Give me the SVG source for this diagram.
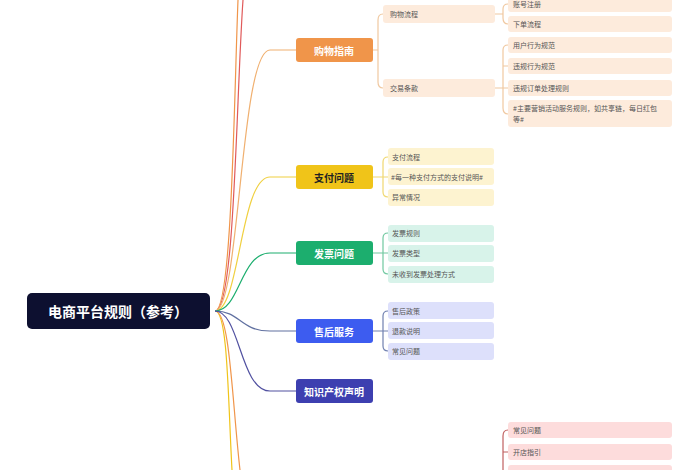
<svg xmlns="http://www.w3.org/2000/svg" width="700" height="470" viewBox="0 0 700 470">
<style>
text{font-family:"Noto Sans CJK SC","Noto Sans",sans-serif;dominant-baseline:central}
.m{font-size:10px;font-weight:bold;fill:#fff;text-anchor:middle}
.s{font-size:7px;fill:#555}
.c path{fill:none;stroke-width:1.2}
</style>
<rect width="700" height="470" fill="#fff"/>
<g class="c" id="connectors">
<path d="M215 311 C235 311 236 100 243 0" stroke="#e05a5a"/>
<path d="M215 311 C232 311 234 100 238 0" stroke="#f0954a"/>
<path d="M215 311 C228 311 228 400 232 470" stroke="#f0c419"/>
<path d="M215 311 C230 311 232 400 240 470" stroke="#f0954a"/>
<path d="M215 311 C240 311 240 50 270 50 L296 50" stroke="#f0b070"/>
<path d="M215 311 C240 311 240 177 270 177 L296 177" stroke="#f0d040"/>
<path d="M215 311 C240 311 240 253 270 253 L296 253" stroke="#1cae6e"/>
<path d="M215 311 C240 311 240 331 270 331 L296 331" stroke="#6070a0"/>
<path d="M215 311 C240 311 240 391 270 391 L296 391" stroke="#5050a0"/>
<g stroke="#f0c8a0"><path d="M373 50 L378 50 M383 14 Q378 14 378 20 L378 82 Q378 88 383 88"/>
<path d="M495 14 L503 14 M508 4 Q503 4 503 9 L503 18 Q503 24 508 24 M495 88 L508 88 M508 45 Q503 45 503 50 L503 108 Q503 114 508 114 M503 66 L508 66"/></g>
<g stroke="#f0d870"><path d="M373 177 L388 177 M388 157 Q383 157 383 162 L383 192 Q383 197 388 197"/></g>
<g stroke="#70c8a0"><path d="M373 253 L388 253 M388 233 Q383 233 383 238 L383 269 Q383 274 388 274"/></g>
<g stroke="#7080b0"><path d="M373 331 L388 331 M388 311 Q383 311 383 316 L383 346 Q383 351 388 351"/></g>
<g stroke="#c06060"><path d="M508 430 Q503 430 503 436 L503 470 M503 452 L508 452"/></g>
</g>
<g id="root"><rect x="27" y="293" width="183" height="36" rx="5" fill="#0d1030"/><text x="118" y="311" class="m" style="font-size:14px">电商平台规则（参考）</text></g>
<g id="n1"><rect x="296" y="38" width="77" height="24" rx="3" fill="#f0954a"/><text x="334" y="50" class="m">购物指南</text></g>
<g id="n2"><rect x="296" y="165" width="77" height="24" rx="3" fill="#f0c419"/><text x="334" y="177" class="m" style="fill:#222">支付问题</text></g>
<g id="n3"><rect x="296" y="241" width="77" height="24" rx="3" fill="#1cae6e"/><text x="334" y="253" class="m">发票问题</text></g>
<g id="n4"><rect x="296" y="319" width="77" height="24" rx="3" fill="#3d5cf0"/><text x="334" y="331" class="m">售后服务</text></g>
<g id="n5"><rect x="296" y="379" width="77" height="24" rx="3" fill="#3d3fb0"/><text x="334" y="391" class="m">知识产权声明</text></g>
<g fill="#fdebdc">
<g id="a1"><rect x="383" y="5" width="112" height="18" rx="3"/><text x="390" y="14" class="s">购物流程</text></g>
<g id="a2"><rect x="383" y="79" width="112" height="18" rx="3"/><text x="390" y="88" class="s">交易条款</text></g>
<g id="a3"><rect x="508" y="-4" width="164" height="16" rx="3"/><text x="513" y="4" class="s">账号注册</text></g>
<g id="a4"><rect x="508" y="16" width="164" height="16" rx="3"/><text x="513" y="24" class="s">下单流程</text></g>
<g id="a5"><rect x="508" y="37" width="164" height="16" rx="3"/><text x="513" y="45" class="s">用户行为规范</text></g>
<g id="a6"><rect x="508" y="58" width="164" height="16" rx="3"/><text x="513" y="66" class="s">违规行为规范</text></g>
<g id="a7"><rect x="508" y="80" width="164" height="16" rx="3"/><text x="513" y="88" class="s">违规订单处理规则</text></g>
<g id="a8"><rect x="508" y="100" width="164" height="27" rx="3"/><text x="513" y="108" class="s">#主要营销活动服务规则，如共享链，每日红包</text><text x="513" y="119" class="s">等#</text></g>
</g>
<g fill="#fdf3d0">
<g id="b1"><rect x="388" y="148" width="106" height="17" rx="3"/><text x="392" y="157" class="s">支付流程</text></g>
<g id="b2"><rect x="388" y="168" width="106" height="17" rx="3"/><text x="391" y="177" class="s">#每一种支付方式的支付说明#</text></g>
<g id="b3"><rect x="388" y="189" width="106" height="17" rx="3"/><text x="392" y="197" class="s">异常情况</text></g>
</g>
<g fill="#d8f3ea">
<g id="c1"><rect x="388" y="225" width="106" height="17" rx="3"/><text x="392" y="233" class="s">发票规则</text></g>
<g id="c2"><rect x="388" y="245" width="106" height="17" rx="3"/><text x="392" y="253" class="s">发票类型</text></g>
<g id="c3"><rect x="388" y="266" width="106" height="17" rx="3"/><text x="392" y="274" class="s">未收到发票处理方式</text></g>
</g>
<g fill="#dde0fb">
<g id="d1"><rect x="388" y="302" width="106" height="17" rx="3"/><text x="392" y="311" class="s">售后政策</text></g>
<g id="d2"><rect x="388" y="322" width="106" height="17" rx="3"/><text x="392" y="331" class="s">退款说明</text></g>
<g id="d3"><rect x="388" y="343" width="106" height="17" rx="3"/><text x="392" y="351" class="s">常见问题</text></g>
</g>
<g fill="#fddcdc">
<g id="e1"><rect x="508" y="422" width="164" height="16" rx="3"/><text x="513" y="430" class="s">常见问题</text></g>
<g id="e2"><rect x="508" y="444" width="164" height="16" rx="3"/><text x="513" y="452" class="s">开店指引</text></g>
<g id="e3"><rect x="508" y="465" width="164" height="16" rx="3"/></g>
</g>
</svg>
